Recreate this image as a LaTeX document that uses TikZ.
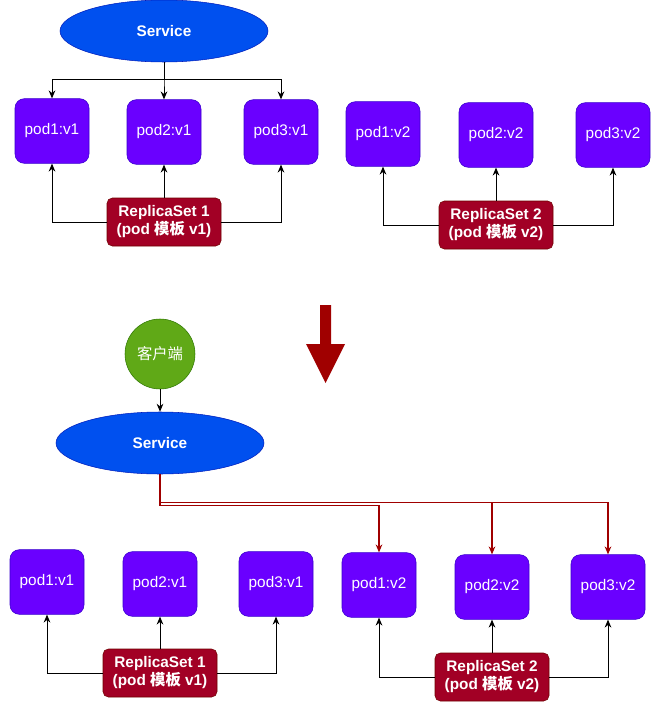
\documentclass[tikz,border=0pt]{standalone}
\usepackage{fontspec}
\setmainfont{Liberation Sans}
\newfontfamily\cjk{Noto Sans CJK SC}
\usetikzlibrary{arrows.meta, shapes.geometric}
\tikzset{>={Stealth[length=6pt,width=5pt]}}
\definecolor{svcfill}{HTML}{0050EF}
\definecolor{svcline}{HTML}{001DBC}
\definecolor{podfill}{HTML}{6A00FF}
\definecolor{podline}{HTML}{3700CC}
\definecolor{rsfill}{HTML}{A20025}
\definecolor{rsline}{HTML}{6F0000}
\definecolor{clifill}{HTML}{60A917}
\definecolor{cliline}{HTML}{2D7600}
\definecolor{routered}{HTML}{A00000}

\begin{document}
\begin{tikzpicture}[x=0.75pt, y=-0.75pt,
	every node/.style={font=\fontsize{11.5}{13.5}\selectfont, text=white, inner sep=0pt},
	svc/.style={ellipse, draw=svcline, fill=svcfill, font=\fontsize{11.5}{13.5}\selectfont\bfseries, minimum width=156pt, minimum height=46.5pt},
	pod/.style={rectangle, rounded corners=7pt, draw=podline, fill=podfill, minimum width=55.5pt, minimum height=48.5pt},
	rs/.style={rectangle, rounded corners=4pt, draw=rsline, fill=rsfill, font=\fontsize{11.5}{13.5}\selectfont\bfseries, align=center, minimum width=85.5pt, minimum height=36pt},
	client/.style={circle, draw=cliline, fill=clifill, minimum size=52.5pt},
	link/.style={->, line width=0.75pt},
	route/.style={->, line width=1pt, color=routered}]
	\useasboundingbox (0,0) rectangle (668,713);

	\node [svc] (s1) at (164,31) {Service};
	\foreach \n/\x/\y in {1/52/131, 2/164/132, 3/281/132}
	\node [pod] (a\n) at (\x,\y) {pod\n:v1};
	\foreach \n/\x/\y in {1/383/134, 2/496/135, 3/613/135}
	\node [pod] (b\n) at (\x,\y) {pod\n:v2};
	\node [rs] (r1) at (164,222) {ReplicaSet 1\\(pod {\cjk 模板} v1)};
	\node [rs] (r2) at (496,225) {ReplicaSet 2\\(pod {\cjk 模板} v2)};
	\foreach \n in {1,2,3}
	\draw [link] (s1.south) -- ++(0,17) -| (a\n.north);
	\draw [link] (r1.west) -| (a1.south);
	\draw [link] (r1.north) -- (a2.south);
	\draw [link] (r1.east) -| (a3.south);
	\draw [link] (r2.west) -| (b1.south);
	\draw [link] (r2.north) -- (b2.south);
	\draw [link] (r2.east) -| (b3.south);

	\fill [color=routered] (320,305) -- (331,305) -- (331,344) -- (345,344) -- (325.5,383) -- (306,344) -- (320,344) -- cycle;

	\node [client] (c) at (160,354) {\cjk 客户端};
	\node [svc] (s2) at (160,443) {Service};
	\draw [link] (c) -- (s2);
	\foreach \n/\x/\y in {1/47/582, 2/160/584, 3/276/584}
	\node [pod] (e\n) at (\x,\y) {pod\n:v1};
	\foreach \n/\x/\y in {1/379/585, 2/492/587, 3/608/587}
	\node [pod] (d\n) at (\x,\y) {pod\n:v2};
	\node [rs] (r3) at (160,673) {ReplicaSet 1\\(pod {\cjk 模板} v1)};
	\node [rs] (r4) at (492,677) {ReplicaSet 2\\(pod {\cjk 模板} v2)};
	\draw [route] (s2.south) -- ++(0,31) -| (d1.north);
	\draw [route] (s2.south) -- ++(0,28) -| (d2.north);
	\draw [route] (s2.south) -- ++(0,28) -| (d3.north);
	\draw [link] (r3.west) -| (e1.south);
	\draw [link] (r3.north) -- (e2.south);
	\draw [link] (r3.east) -| (e3.south);
	\draw [link] (r4.west) -| (d1.south);
	\draw [link] (r4.north) -- (d2.south);
	\draw [link] (r4.east) -| (d3.south);
\end{tikzpicture}
\end{document}
